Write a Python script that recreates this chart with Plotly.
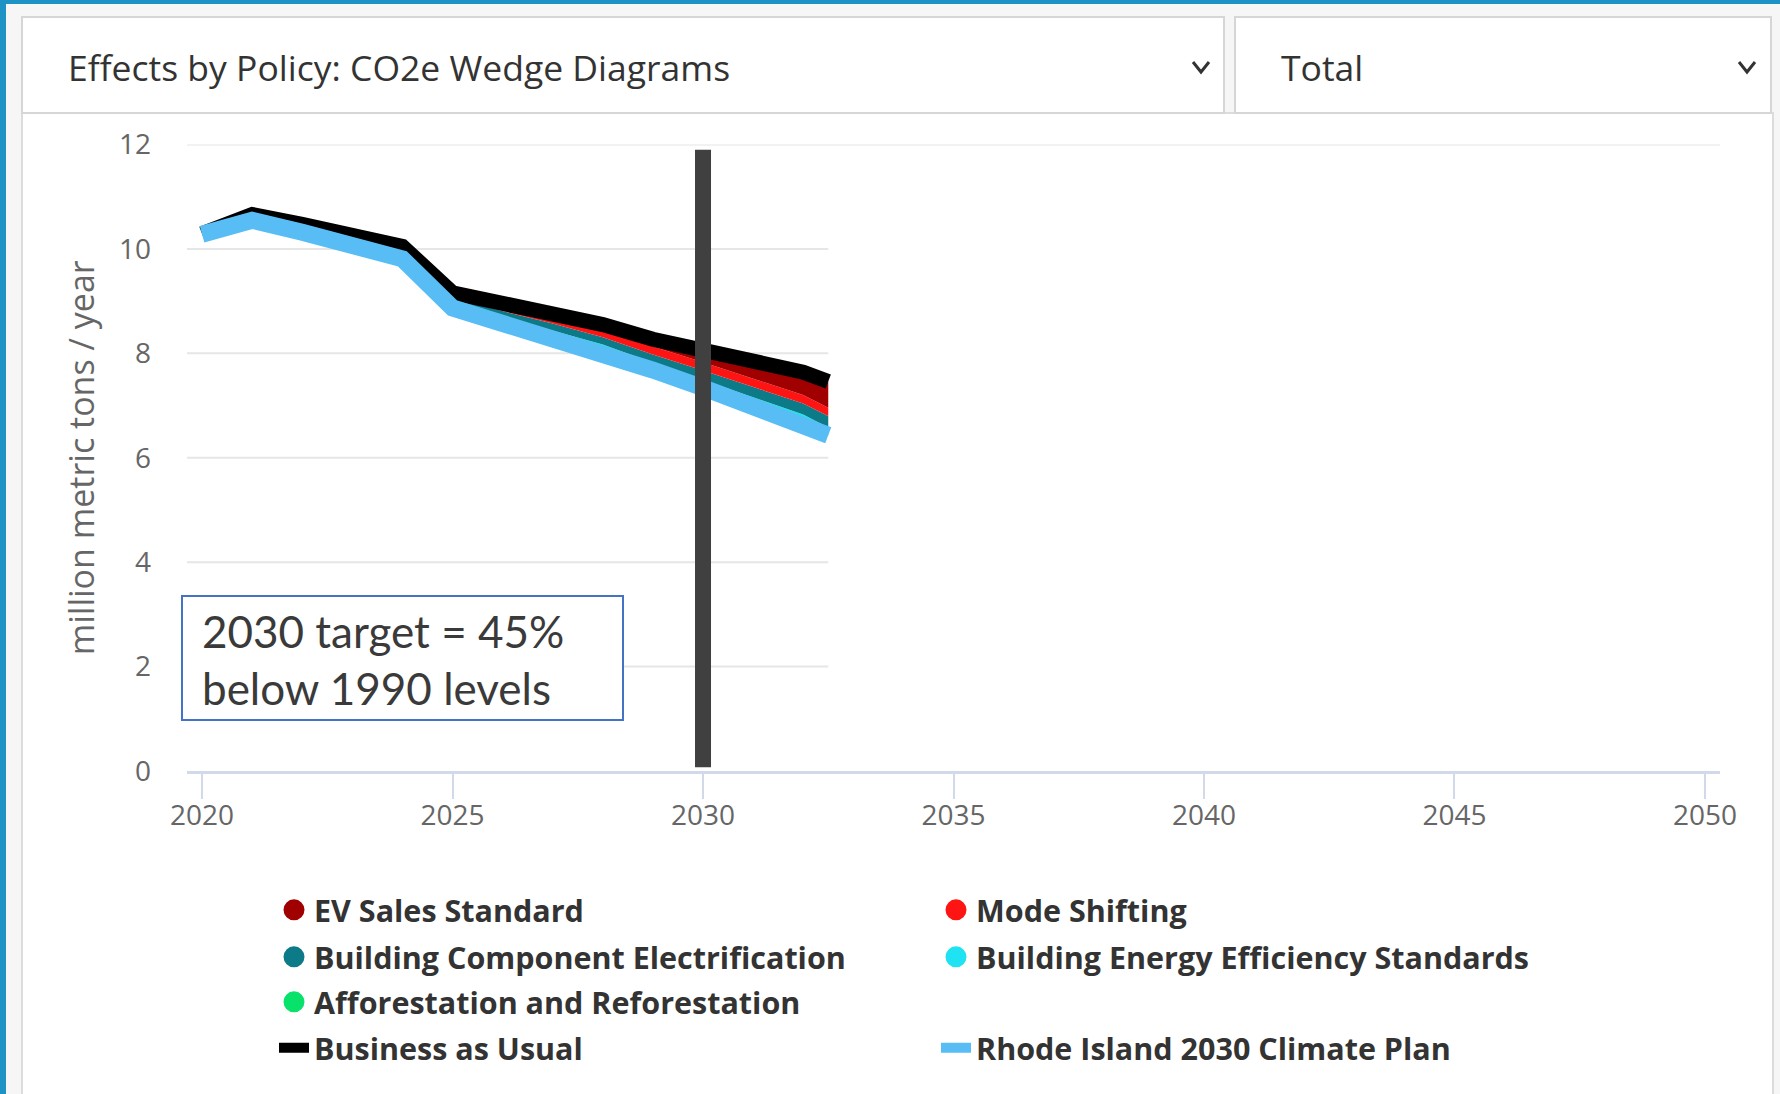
import numpy as np
import plotly.graph_objects as go

# ---------------- data (million metric tons CO2e / year) ----------------
years = [2020, 2021, 2022, 2023, 2024, 2025, 2026, 2027, 2028, 2029, 2030, 2031, 2032, 2032.5]
business_as_usual = [10.29, 10.66, 10.47, 10.28, 10.05, 9.16, 8.96, 8.76, 8.55, 8.27, 8.07, 7.85, 7.64, 7.46]
climate_plan_2030 = [10.28, 10.55, 10.32, 10.10, 9.81, 8.87, 8.59, 8.31, 8.04, 7.68, 7.34, 7.01, 6.68, 6.43]

# wedges (stacked from the climate-plan line upward)
afforestation = [0.00, 0.02, 0.02, 0.02, 0.03, 0.03, 0.04, 0.05, 0.04, 0.04, 0.04, 0.03, 0.03, 0.03]
bldg_efficiency = [0.00, 0.03, 0.04, 0.04, 0.05, 0.06, 0.07, 0.08, 0.09, 0.10, 0.11, 0.12, 0.12, 0.12]
bldg_electrification = [0.01, 0.04, 0.05, 0.06, 0.08, 0.09, 0.11, 0.13, 0.14, 0.16, 0.18, 0.20, 0.21, 0.22]
mode_shifting = [0.00, 0.02, 0.04, 0.05, 0.06, 0.08, 0.10, 0.12, 0.14, 0.15, 0.16, 0.16, 0.16, 0.16]
ev_sales = [0.00, 0.00, 0.00, 0.01, 0.02, 0.03, 0.05, 0.07, 0.10, 0.14, 0.24, 0.33, 0.44, 0.50]

target_year = 2030
y_ticks = [0, 2, 4, 6, 8, 10, 12]
x_ticks = [2020, 2025, 2030, 2035, 2040, 2045, 2050]
x_range = [2019.7, 2050.3]
visible_until = 2032.5

wedge_names = ["Afforestation and Reforestation", "Building Energy Efficiency Standards",
               "Building Component Electrification", "Mode Shifting", "EV Sales Standard"]
wedge_values = [afforestation, bldg_efficiency, bldg_electrification, mode_shifting, ev_sales]
wedge_colors = ["#08e26a", "#1fe2f2", "#0d7b87", "#ff1414", "#a00000"]

# ---------------- figure ----------------
W, H = 1780, 1094
def px(x):
    return x / W
def py(y):
    return 1 - y / H

fig = go.Figure()

# stacked wedges between plan line and BAU
base = np.array(climate_plan_2030)
fig.add_trace(go.Scatter(x=years, y=base, mode="lines", line=dict(width=0, color="rgba(0,0,0,0)"),
                         showlegend=False, hoverinfo="skip"))
cum = base.copy()
for name, vals, col in zip(wedge_names, wedge_values, wedge_colors):
    cum = cum + np.array(vals)
    fig.add_trace(go.Scatter(x=years, y=cum.copy(), mode="lines", fill="tonexty",
                             fillcolor=col, line=dict(width=0, color=col),
                             name=name, legendgroup=name, showlegend=False))

fig.add_trace(go.Scatter(x=years, y=business_as_usual, mode="lines", name="Business as Usual",
                         line=dict(color="#000000", width=15), legend="legend4"))
fig.add_trace(go.Scatter(x=years, y=climate_plan_2030, mode="lines", name="Rhode Island 2030 Climate Plan",
                         line=dict(color="#58bdf5", width=17), legend="legend4"))

# legend entries (circle symbols) for the wedges, in legend order
legend_layout = [("EV Sales Standard", "legend"), ("Mode Shifting", "legend"),
                 ("Building Component Electrification", "legend2"),
                 ("Building Energy Efficiency Standards", "legend2"),
                 ("Afforestation and Reforestation", "legend3")]
color_of = dict(zip(wedge_names, wedge_colors))
for name, lg in legend_layout:
    c = color_of[name]
    fig.add_trace(go.Scatter(x=[None], y=[None], mode="markers", name=name, legendgroup=name,
                             legend=lg,
                             marker=dict(symbol="circle", size=16, color=c, line=dict(width=5, color=c))))

shapes = []
# chart panel
shapes.append(dict(type="rect", xref="paper", yref="paper", x0=px(22), x1=px(1773), y0=py(1096), y1=py(113),
                   fillcolor="white", line=dict(color="#dcdcdc", width=2), layer="below"))
# gridlines
for t in y_ticks[1:]:
    x_end = x_range[1] if t == y_ticks[-1] else visible_until
    shapes.append(dict(type="line", xref="x", yref="y", x0=x_range[0], x1=x_end, y0=t, y1=t,
                       line=dict(color="#e6e6e6", width=2), layer="below"))
# dropdown boxes
for x0, x1 in [(22, 1224), (1235, 1771)]:
    shapes.append(dict(type="rect", xref="paper", yref="paper", x0=px(x0), x1=px(x1), y0=py(113), y1=py(17),
                       fillcolor="white", line=dict(color="#d6d6d6", width=2), layer="below"))
# chevrons
for cx in [1201, 1747]:
    shapes.append(dict(type="path", xref="paper", yref="paper",
                       path=f"M {px(cx-8)} {py(62)} L {px(cx)} {py(72)} L {px(cx+8)} {py(62)}",
                       line=dict(color="#333333", width=3)))
# blue frame
shapes.append(dict(type="rect", xref="paper", yref="paper", x0=0, x1=1, y0=py(4), y1=1,
                   fillcolor="#1d92c5", line=dict(width=0), layer="below"))
shapes.append(dict(type="rect", xref="paper", yref="paper", x0=0, x1=px(6), y0=0, y1=1,
                   fillcolor="#1d92c5", line=dict(width=0), layer="below"))
# 2030 marker bar
shapes.append(dict(type="line", xref="x", yref="y", x0=target_year, x1=target_year, y0=0.07, y1=11.9,
                   line=dict(color="#404040", width=16), layer="above"))
# target text box
shapes.append(dict(type="rect", xref="paper", yref="paper", x0=px(182), x1=px(623), y0=py(720), y1=py(596),
                   fillcolor="white", line=dict(color="#4472c4", width=2), layer="above"))

annotations = [
    dict(xref="paper", yref="paper", x=px(66), y=py(67), xanchor="left", yanchor="middle",
         text="Effects by Policy: CO2e Wedge Diagrams", showarrow=False,
         font=dict(family="Open Sans", size=35.5, color="#333333")),
    dict(xref="paper", yref="paper", x=px(1279), y=py(67), xanchor="left", yanchor="middle",
         text="Total", showarrow=False, font=dict(family="Open Sans", size=35.5, color="#333333")),
    dict(xref="paper", yref="paper", x=px(200), y=py(659), xanchor="left", yanchor="middle", align="left",
         text="2030 target = 45%<br>below 1990 levels", showarrow=False,
         font=dict(family="Lato", size=44, color="#3a3a3a")),
]

legend_common = dict(orientation="h", x=px(274), xanchor="left", yanchor="middle",
                     entrywidth=617, bgcolor="rgba(0,0,0,0)",
                     font=dict(family="Open Sans", size=30.5, color="#333333", weight="bold"))

fig.update_layout(
    width=W, height=H,
    template="none",
    margin=dict(l=0, r=0, t=0, b=0, autoexpand=False),
    paper_bgcolor="#f6f6f6", plot_bgcolor="rgba(0,0,0,0)",
    shapes=shapes, annotations=annotations,
    legend=dict(y=py(910), **legend_common),
    legend2=dict(y=py(957), **legend_common),
    legend3=dict(y=py(1002), **legend_common),
    legend4=dict(y=py(1048), **legend_common),
    xaxis=dict(domain=[px(187), px(1720)], range=x_range, tickvals=x_ticks,
               ticks="outside", ticklen=25, tickwidth=2, tickcolor="#d2d9ea",
               showline=True, linecolor="#d2d9ea", linewidth=3,
               showgrid=False, zeroline=False, automargin=False,
               ticklabelstandoff=-8,
               tickfont=dict(family="Open Sans", size=28, color="#666666")),
    yaxis=dict(domain=[py(771), py(144.5)], range=[0, 12], tickvals=y_ticks,
               showgrid=False, zeroline=False, showline=False, ticks="",
               ticklabelstandoff=35, automargin=False,
               tickfont=dict(family="Open Sans", size=28, color="#666666"),
               title=dict(text="million metric tons / year", standoff=14,
                          font=dict(family="Open Sans", size=34, color="#666666"))),
    hovermode=False,
)

fig.write_html("out.html", config={"displayModeBar": False},
               post_script="document.body.style.margin='0';document.body.style.overflow='hidden';")
